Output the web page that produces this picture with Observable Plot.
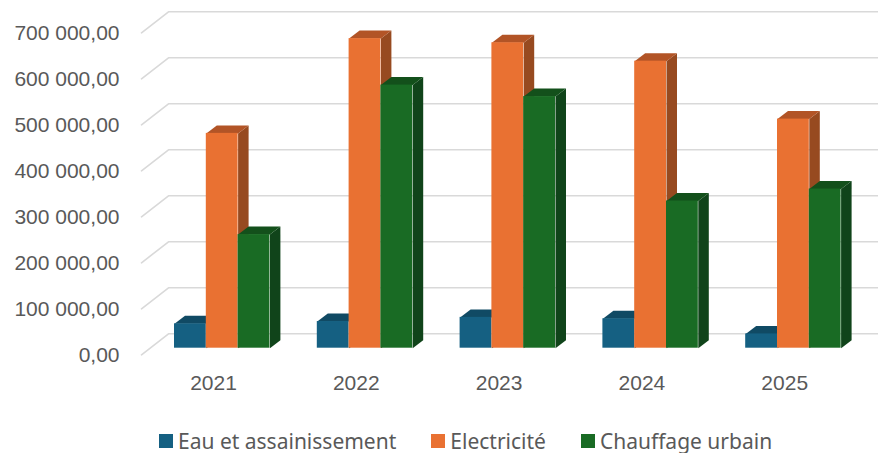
<!DOCTYPE html>
<html lang="fr">
<head>
<meta charset="utf-8">
<script src="https://cdn.jsdelivr.net/npm/d3@7"></script>
<script src="https://cdn.jsdelivr.net/npm/@observablehq/plot@0.6"></script>
<style>
html,body{margin:0;padding:0;background:#fff;width:878px;height:453px;overflow:hidden}
#chart{position:absolute;left:0;top:0}
#legend{position:absolute;left:159px;top:429px;height:24px;display:flex;align-items:center;font:21px "Noto Sans",sans-serif;color:#595959;white-space:nowrap}
#legend span.s{display:inline-block;width:14px;height:14px;margin-right:5px}
#legend div{display:flex;align-items:center;margin-right:35px}
</style>
</head>
<body>
<div id="chart"></div>
<div id="legend"></div>
<script>
const years = [2021, 2022, 2023, 2024, 2025];
const seriesNames = ["Eau et assainissement", "Electricité", "Chauffage urbain"];
const eau = [53000, 58000, 67000, 64000, 31000];
const electricite = [467000, 673000, 664000, 624000, 498000];
const chauffage = [247000, 572000, 547000, 320000, 346000];
const yTicks = [0, 100000, 200000, 300000, 400000, 500000, 600000, 700000];
const frontColors = ["#156082", "#E97132", "#196B24"];
const topColors = ["#104A64", "#B25426", "#13501B"];
const sideColors = ["#0D3E54", "#974A20", "#10441A"];
const seriesValues = [eau, electricite, chauffage];

// scale set-up (data units per pixel are fixed by the scale domains)
const W = 878, H = 429;
const pxX = 1 / 142.8, pxY = 100000 / 46;
const xMin = 2021 - 221.7 * pxX, xMax = xMin + W * pxX;
const yMax = 347.7 * pxY, yMin = yMax - H * pxY;
const barW = 31.8 * pxX;
const depthX = 10.5 * pxX, depthY = 8 * pxY;     // bar depth
const wallX = 18.5 * pxX, wallY = 14.4 * pxY;    // bar plane -> back wall
const frontX = 8.5 * pxX, frontY = 6.6 * pxY;    // bar plane -> front edge
const floorLeft = 2021 - 1.5 * barW - 0.0;       // left edge of first bar
const gridFrontX = xMin + 141 * pxX, gridWallX = xMin + 168 * pxX;

const fr = v => d3.format(",.2f")(v).replace(/,/g, " ").replace(".", ",");

const grid = yTicks.flatMap(v => [
  {id: v, x: gridFrontX, y: v - frontY},
  {id: v, x: gridWallX, y: v + wallY},
  {id: v, x: xMax, y: v + wallY}
]);

const seriesMarks = seriesNames.flatMap((name, s) => {
  const rows = years.map((year, i) => {
    const x1 = year + (s - 1.5) * barW;
    return {year, name, x1, x2: x1 + barW, v: seriesValues[s][i]};
  });
  const poly = rows.flatMap(r => [
    // side face
    {id: r.year + "s", c: sideColors[s], x: r.x2, y: 0},
    {id: r.year + "s", c: sideColors[s], x: r.x2 + depthX, y: depthY},
    {id: r.year + "s", c: sideColors[s], x: r.x2 + depthX, y: r.v + depthY},
    {id: r.year + "s", c: sideColors[s], x: r.x2, y: r.v},
    // top face
    {id: r.year + "t", c: topColors[s], x: r.x1, y: r.v},
    {id: r.year + "t", c: topColors[s], x: r.x1 + depthX, y: r.v + depthY},
    {id: r.year + "t", c: topColors[s], x: r.x2 + depthX, y: r.v + depthY},
    {id: r.year + "t", c: topColors[s], x: r.x2, y: r.v}
  ]);
  return [
    Plot.line(poly, {x: "x", y: "y", z: "id", fill: "c", stroke: "none"}),
    Plot.rect(rows, {x1: "x1", x2: "x2", y1: 0, y2: "v", fill: frontColors[s]})
  ];
});

const plot = Plot.plot({
  width: W, height: H,
  marginTop: 0, marginRight: 0, marginBottom: 0, marginLeft: 0,
  style: {background: "transparent", overflow: "visible"},
  x: {domain: [xMin, xMax]},
  y: {domain: [yMin, yMax]},
  color: {type: "identity"},
  marks: [
    Plot.line(grid, {x: "x", y: "y", z: "id", stroke: "#d9d9d9", strokeWidth: 1.6}),
    ...seriesMarks,
    Plot.axisY(yTicks, {anchor: "left", tickSize: 0, tickPadding: 0, dx: 119, dy: 6.6, label: null,
      tickFormat: fr, fontSize: 21, fontFamily: "Liberation Sans", fill: "#595959"}),
    Plot.axisX(years, {anchor: "bottom", tickSize: 0, tickPadding: 0, dx: -8.7, dy: -54, label: null,
      tickFormat: "d", fontSize: 21, fontFamily: "Liberation Sans", fill: "#595959"})
  ]
});
document.getElementById("chart").append(plot);

const legend = document.getElementById("legend");
seriesNames.forEach((name, i) => {
  const d = document.createElement("div");
  const s = document.createElement("span");
  s.className = "s"; s.style.background = frontColors[i];
  d.append(s, document.createTextNode(name));
  legend.append(d);
});
</script>
</body>
</html>
